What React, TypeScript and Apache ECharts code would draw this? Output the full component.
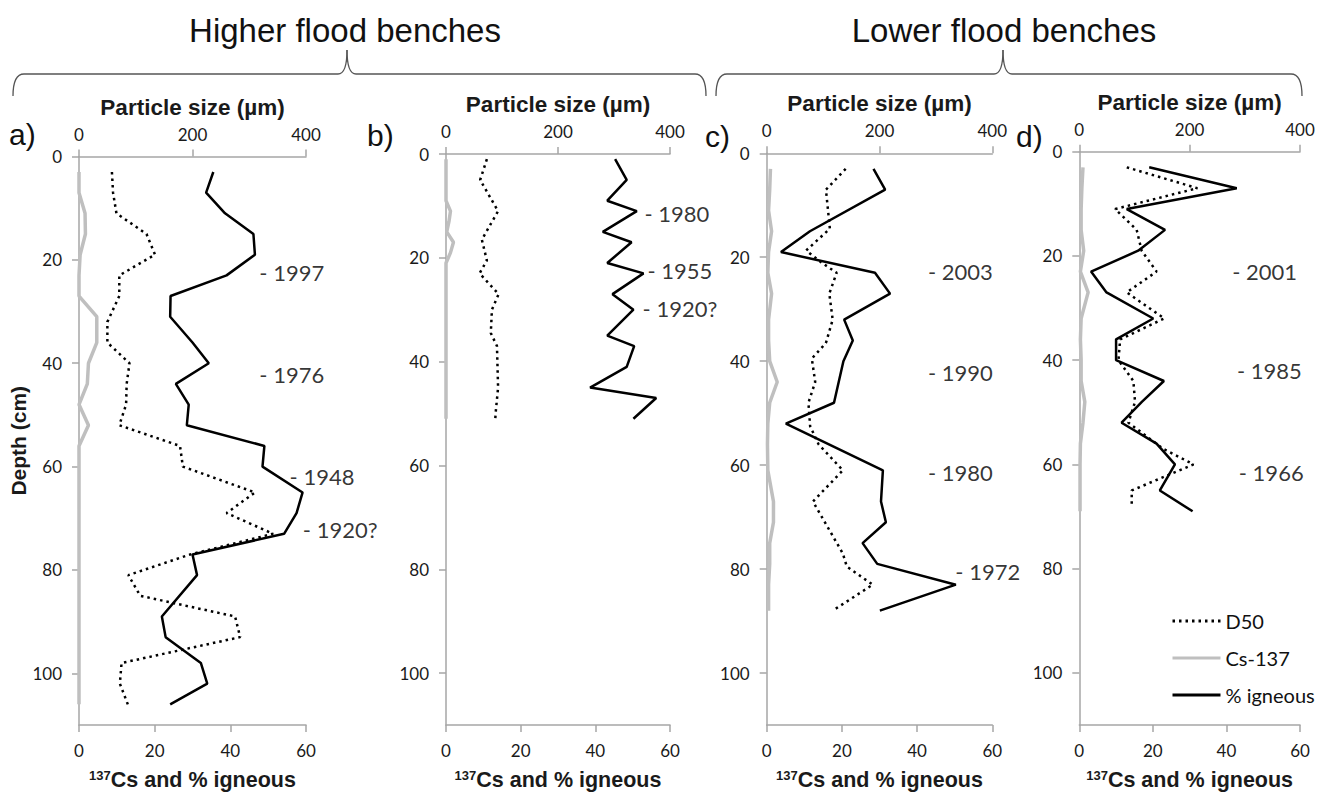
import React, { useEffect, useRef } from "react";
import * as echarts from "echarts";

// ---------- data ----------
const panelLetters = ["a)", "b)", "c)", "d)"];
const groupTitles = ["Higher flood benches", "Lower flood benches"];
const legendNames = ["D50", "Cs-137", "% igneous"];
const sizeTicks = [0, 200, 400];
const pctTicks = [0, 20, 40, 60];
const depthTicks = [0, 20, 40, 60, 80, 100];

// panel a
const aIgnDepth = [3, 7, 11, 15, 19, 23, 27, 31, 36, 40, 44, 48, 52, 56, 60, 65, 69, 73, 77, 81, 89, 93, 98, 102, 106];
const aIgn = [35.5, 33.6, 38.6, 46.1, 46.5, 39.0, 24.2, 24.1, 30.0, 34.3, 25.6, 29.0, 28.5, 49.0, 48.5, 59.1, 57.5, 54.2, 30.0, 31.2, 21.9, 22.9, 32.2, 33.9, 24.1];
const aD50Depth = [3, 7, 11, 15, 19, 23, 27, 32, 36, 40, 44, 48, 52, 56, 60, 65, 69, 73, 77, 81, 85, 89, 93, 98, 102, 106];
const aD50 = [58, 60, 66, 119, 134, 71, 71, 50, 50, 89, 84, 83, 71, 178, 183, 310, 260, 342, 196, 87, 108, 275, 284, 75, 72, 86];
const aCsDepth = [3, 7, 11, 15, 19, 23, 27, 31, 36, 40, 44, 48, 52, 56, 60, 65, 69, 73, 77, 81, 85, 89, 93, 98, 102, 106];
const aCs = [0, 0, 1.6, 1.7, 0.3, 0, 0, 4.7, 4.7, 2.5, 2.2, 0, 2.5, 0, 0, 0, 0, 0, 0, 0, 0, 0, 0, 0, 0, 0];
const aDates = ["- 1997", "- 1976", "- 1948", "- 1920?"];
const aDateDepth = [22.5, 42.3, 62, 72.2];
const aDateX = [47.8, 47.8, 55.8, 59.3];

// panel b
const bIgnDepth = [1, 5, 9, 11, 15, 17, 21, 23, 27, 30, 35, 37, 41, 45, 47, 51];
const bIgn = [45.3, 48.4, 43.2, 51.1, 42.0, 49.7, 43.2, 52.9, 44.6, 50.2, 43.2, 50.4, 48.4, 38.6, 56.3, 50.2];
const bD50Depth = [1, 5, 11, 16.5, 20.5, 23, 27, 30, 34.5, 37, 41, 45, 49.5, 51];
const bD50 = [73, 61, 93, 64, 73, 60, 94, 82, 80, 91, 92, 93, 89, 88];
const bCsDepth = [1, 5, 9, 11, 13, 15, 17, 19, 21, 25, 30, 35, 40, 45, 51];
const bCs = [0, 0, 0, 1.2, 0.8, 0.2, 2.0, 1.2, 0, 0, 0, 0, 0, 0, 0];
const bDates = ["- 1980", "- 1955", "- 1920?"];
const bDateDepth = [11.6, 22.5, 29.9];
const bDateX = [53.3, 54.1, 52.8];

// panel c
const cIgnDepth = [3, 7, 15, 19, 23, 27, 32, 36, 40, 48, 52, 61, 67, 71, 75, 79, 83, 88];
const cIgn = [28.4, 31.5, 11.5, 3.8, 28.8, 32.8, 20.6, 22.9, 20.4, 17.9, 5.1, 30.9, 30.4, 31.7, 25.5, 29.4, 50.3, 30.1];
const cD50Depth = [3, 7, 14.5, 18.7, 21, 23, 27, 32, 36.5, 39.5, 44, 48, 52.5, 56, 61, 67, 77, 79.5, 83, 88];
const cD50 = [140, 105, 112, 70, 97, 124, 111, 117, 105, 80, 86, 74, 77, 92, 135, 82, 135, 142, 188, 117];
const cCsDepth = [3, 7, 11, 15, 19, 23, 27, 32, 36, 40, 44, 48, 52, 56, 61, 67, 71, 75, 79, 83, 88];
const cCs = [1, 0.8, 0.5, 1.3, 0.5, 0.3, 1.3, 0.5, 0.5, 0.8, 2.8, 0.8, 0.3, 0.2, 0.3, 1.8, 1.8, 0.8, 0.8, 0.5, 0.5];
const cDates = ["- 2003", "- 1990", "- 1980", "- 1972"];
const cDateDepth = [22.8, 42.3, 61.6, 80.5];
const cDateX = [43.0, 43.0, 43.0, 50.3];

// panel d
const dIgnDepth = [3, 7, 11, 15, 19, 23, 27, 32, 36, 40, 44, 48, 52, 56, 60, 65, 69];
const dIgn = [19.0, 42.8, 12.9, 23.3, 16.0, 3.2, 7.4, 20.1, 10.0, 10.0, 23.0, 17.0, 11.5, 21.0, 26.0, 21.9, 30.8];
const dD50Depth = [3, 7, 11, 15, 19, 23, 27, 32, 36, 40, 44, 48, 52, 57, 60, 65, 68];
const dD50 = [86, 214, 65, 104, 113, 140, 86, 154, 74, 71, 98, 101, 89, 152, 207, 95, 95];
const dCsDepth = [3, 7, 11, 15, 19, 23, 27, 32, 36, 40, 44, 48, 52, 56, 60, 65, 69];
const dCs = [1, 0.7, 0.5, 0.5, 1.2, 0.3, 2.4, 0.5, 0.3, 0.5, 0.5, 1.5, 1.0, 0.3, 0.2, 0.2, 0.2];
const dDates = ["- 2001", "- 1985", "- 1966"];
const dDateDepth = [23.0, 42.1, 61.6];
const dDateX = [41.7, 43.0, 43.5];

const panels = [
  { ign: [aIgn, aIgnDepth], d50: [aD50, aD50Depth], cs: [aCs, aCsDepth], dates: [aDates, aDateX, aDateDepth] },
  { ign: [bIgn, bIgnDepth], d50: [bD50, bD50Depth], cs: [bCs, bCsDepth], dates: [bDates, bDateX, bDateDepth] },
  { ign: [cIgn, cIgnDepth], d50: [cD50, cD50Depth], cs: [cCs, cCsDepth], dates: [cDates, cDateX, cDateDepth] },
  { ign: [dIgn, dIgnDepth], d50: [dD50, dD50Depth], cs: [dCs, dCsDepth], dates: [dDates, dDateX, dDateDepth] },
];

// ---------- layout ----------
const grids = [
  { left: 79, top: 156.5, width: 227, height: 568.5 },
  { left: 446, top: 154, width: 224, height: 577.5 },
  { left: 766.7, top: 153.3, width: 225.6, height: 576.7 },
  { left: 1079.3, top: 151.7, width: 220.7, height: 577.6 },
];
const letterPos = [
  [9, 134],
  [367, 135],
  [705, 136],
  [1016, 136],
];

const AXIS_GREY = "#A6A6A6";
const TXT = "#1a1a1a";
const NUM_FONT = "Lato, 'Open Sans', sans-serif";
const BOLD_FONT = "'Liberation Sans', Arial, sans-serif";

function pairs(vals: number[], depths: number[]) {
  return vals.map((v, i) => [v, depths[i]]);
}

function buildOption() {
  const xAxis: any[] = [];
  const yAxis: any[] = [];
  const series: any[] = [];
  grids.forEach((g, i) => {
    xAxis.push({
      type: "value",
      gridIndex: i,
      position: "top",
      min: sizeTicks[0],
      max: sizeTicks[sizeTicks.length - 1],
      interval: sizeTicks[1] - sizeTicks[0],
      name: "Particle size (µm)",
      nameLocation: "middle",
      nameGap: 38,
      nameTextStyle: { fontFamily: BOLD_FONT, fontWeight: "bold", fontSize: 22.5, color: TXT },
      axisLine: { onZero: false, lineStyle: { color: AXIS_GREY, width: 1.5 } },
      axisTick: { show: true, length: 7, lineStyle: { color: AXIS_GREY, width: 1.5 } },
      axisLabel: { fontFamily: NUM_FONT, fontSize: 17, color: TXT, margin: 14 },
      splitLine: { show: false },
    });
    xAxis.push({
      type: "value",
      gridIndex: i,
      position: "bottom",
      min: pctTicks[0],
      max: pctTicks[pctTicks.length - 1],
      interval: pctTicks[1] - pctTicks[0],
      name: "{sup|137}{b|Cs and % igneous}",
      nameLocation: "middle",
      nameGap: 44,
      nameTextStyle: {
        rich: {
          sup: { fontFamily: BOLD_FONT, fontWeight: "bold", fontSize: 13, color: TXT, verticalAlign: "top", padding: [0, 0, 8, 0] },
          b: { fontFamily: BOLD_FONT, fontWeight: "bold", fontSize: 21.5, color: TXT },
        },
      },
      axisLine: { onZero: false, lineStyle: { color: AXIS_GREY, width: 1.5 } },
      axisTick: { show: true, length: 7, lineStyle: { color: AXIS_GREY, width: 1.5 } },
      axisLabel: { fontFamily: NUM_FONT, fontSize: 17, color: TXT, margin: 17 },
      splitLine: { show: false },
    });
    yAxis.push({
      type: "value",
      gridIndex: i,
      inverse: true,
      min: depthTicks[0],
      max: 110,
      interval: depthTicks[1] - depthTicks[0],
      name: i === 0 ? "Depth (cm)" : "",
      nameLocation: "middle",
      nameGap: 47,
      nameRotate: 90,
      nameTextStyle: { fontFamily: BOLD_FONT, fontWeight: "bold", fontSize: 21, color: TXT },
      axisLine: { onZero: false, lineStyle: { color: AXIS_GREY, width: 1.5 } },
      axisTick: { show: true, length: 7, lineStyle: { color: AXIS_GREY, width: 1.5 } },
      axisLabel: { fontFamily: NUM_FONT, fontSize: 17, color: TXT, margin: 17, showMaxLabel: false },
      splitLine: { show: false },
    });

    const p = panels[i];
    series.push({
      type: "line",
      name: legendNames[1],
      xAxisIndex: 2 * i + 1,
      yAxisIndex: i,
      data: pairs(p.cs[0] as number[], p.cs[1] as number[]),
      symbol: "none",
      lineStyle: { color: "#BFBFBF", width: 3.5 },
      itemStyle: { color: "#BFBFBF" },
      z: 2,
    });
    series.push({
      type: "line",
      name: legendNames[0],
      xAxisIndex: 2 * i,
      yAxisIndex: i,
      data: pairs(p.d50[0] as number[], p.d50[1] as number[]),
      symbol: "none",
      lineStyle: { color: "#000", width: 2.5, type: [2.5, 4] },
      itemStyle: { color: "#000" },
      z: 3,
    });
    series.push({
      type: "line",
      name: legendNames[2],
      xAxisIndex: 2 * i + 1,
      yAxisIndex: i,
      data: pairs(p.ign[0] as number[], p.ign[1] as number[]),
      symbol: "none",
      lineStyle: { color: "#000", width: 2.5 },
      itemStyle: { color: "#000" },
      z: 4,
    });
    const [labels, xs, ds] = p.dates as [string[], number[], number[]];
    series.push({
      type: "scatter",
      name: "dates" + i,
      xAxisIndex: 2 * i + 1,
      yAxisIndex: i,
      symbolSize: 1,
      itemStyle: { color: "rgba(0,0,0,0)" },
      data: labels.map((t, k) => ({ name: t, value: [xs[k], ds[k]] })),
      label: {
        show: true,
        position: [0, 0],
        align: "left",
        verticalAlign: "middle",
        formatter: (prm: any) => prm.name,
        fontFamily: NUM_FONT,
        fontSize: 22,
        color: "#000",
      },
      silent: true,
      z: 5,
    });
  });

  const graphic: any[] = [];
  // titles
  graphic.push({
    type: "text",
    style: { text: groupTitles[0], x: 345, y: 30, align: "center", verticalAlign: "middle", fontFamily: BOLD_FONT, fontSize: 33, fill: "#111" },
  });
  graphic.push({
    type: "text",
    style: { text: groupTitles[1], x: 1004, y: 30, align: "center", verticalAlign: "middle", fontFamily: BOLD_FONT, fontSize: 33, fill: "#111" },
  });
  // braces
  const braces = [
    [13, 347, 706],
    [716, 1003, 1302],
  ];
  const bs = { stroke: "#555", lineWidth: 1.3, fill: "none" };
  braces.forEach(([l, m, r]) => {
    const yl = 74;
    const yb = 96;
    const yt = 50;
    graphic.push({ type: "bezierCurve", shape: { x1: l, y1: yb, cpx1: l, cpy1: yl, x2: l + 11, y2: yl }, style: bs });
    graphic.push({ type: "line", shape: { x1: l + 11, y1: yl, x2: m - 9, y2: yl }, style: bs });
    graphic.push({ type: "bezierCurve", shape: { x1: m - 9, y1: yl, cpx1: m, cpy1: yl, x2: m, y2: yt }, style: bs });
    graphic.push({ type: "bezierCurve", shape: { x1: m, y1: yt, cpx1: m, cpy1: yl, x2: m + 9, y2: yl }, style: bs });
    graphic.push({ type: "line", shape: { x1: m + 9, y1: yl, x2: r - 11, y2: yl }, style: bs });
    graphic.push({ type: "bezierCurve", shape: { x1: r - 11, y1: yl, cpx1: r, cpy1: yl, x2: r, y2: yb }, style: bs });
  });
  // panel letters
  letterPos.forEach(([x, y], i) => {
    graphic.push({
      type: "text",
      style: { text: panelLetters[i], x, y, align: "left", verticalAlign: "middle", fontFamily: BOLD_FONT, fontSize: 30, fill: "#111" },
    });
  });

  return {
    animation: false,
    backgroundColor: "#fff",
    grid: grids.map((g) => ({ ...g, containLabel: false })),
    xAxis,
    yAxis,
    series,
    legend: {
      data: legendNames,
      orient: "vertical",
      left: 1166,
      top: 606,
      itemWidth: 48,
      itemHeight: 14,
      itemGap: 17,
      selectedMode: false,
      itemStyle: { opacity: 0 },
      lineStyle: { width: 3 },
      textStyle: { fontFamily: NUM_FONT, fontSize: 20, color: "#111" },
    },
    graphic,
  };
}

export default function App() {
  const ref = useRef<HTMLDivElement>(null);
  useEffect(() => {
    document.body.style.margin = "0";
    if (!ref.current) return;
    const chart = echarts.init(ref.current, undefined, { renderer: "svg" });
    chart.setOption(buildOption() as any);
    return () => chart.dispose();
  }, []);
  return <div ref={ref} style={{ width: 1326, height: 796 }} />;
}
